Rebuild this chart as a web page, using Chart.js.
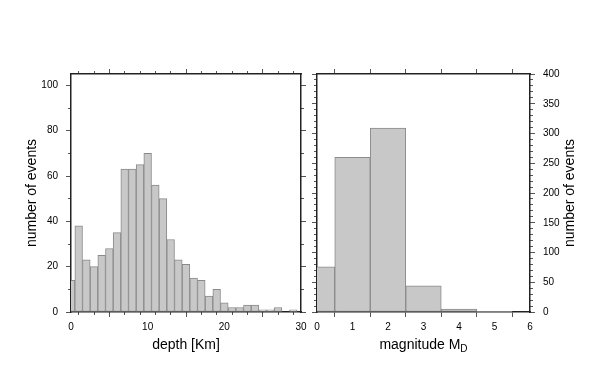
<!DOCTYPE html>
<html><head><meta charset="utf-8">
<script src="https://cdn.jsdelivr.net/npm/chart.js@4"></script>
<style>
html,body{margin:0;padding:0;background:#fff;}
#wrap{position:relative;width:602px;height:383px;background:#fff;}
canvas{position:absolute;left:0;top:0;}
</style></head><body>
<div id="wrap"><canvas id="c1" width="602" height="383"></canvas><canvas id="c2" width="602" height="383"></canvas></div>
<script>
// ---- data ----
const depthBins   = [0,1,2,3,4,5,6,7,8,9,10,11,12,13,14,15,16,17,18,19,20,21,22,23,24,25,26,27,28,29,30];
const depthCounts = [14,38,23,20,25,28,35,63,63,65,70,56,50,32,23,21,15,14,7,10,4,2,2,3,3,1,1,2,0,1,0];
const magBins     = [0,1,2,3,4,5,6];
const magCounts   = [76,260,309,44,5,1,0];

const depthXMajor = [0,10,20,30];
const depthXMinor = [0,2,4,6,8,10,12,14,16,18,20,22,24,26,28,30];
const depthYMajor = [0,20,40,60,80,100];
const depthYMinor = [0,10,20,30,40,50,60,70,80,90,100];
const magXTicks   = [0,1,2,3,4,5,6];
const magYMajor   = [0,50,100,150,200,250,300,350,400];
const magYMinor   = [0,10,20,30,40,50,60,70,80,90,100,110,120,130,140,150,160,170,180,190,200,210,220,230,240,250,260,270,280,290,300,310,320,330,340,350,360,370,380,390,400];

const FONT = '"Liberation Sans", Arial, Helvetica, sans-serif';
const FRAME = '#222';
const TICKC = '#555';
const MAJ = 5, MIN = 3;

function fixSize(size){ return function(s){ if (s.isHorizontal()) s.height = size; else s.width = size; }; }
function setTicks(arr){ return function(s){ s.ticks = arr.map(v => ({value: v})); }; }

function axis(pos, min, max, tickArr, len, size, weight, labels, border){
  const vertical = (pos === 'left' || pos === 'right');
  return {
    type: 'linear', position: pos, min: min, max: max, weight: weight, z: 1, offset: false,
    afterBuildTicks: setTicks(tickArr),
    afterFit: fixSize(size),
    ticks: {display: labels, autoSkip: false, maxRotation: 0, padding: vertical ? 8 : 4, color: '#000', font: {family: FONT, size: 10}},
    grid: {drawOnChartArea: false, drawTicks: true, tickLength: len, tickColor: TICKC, tickWidth: 1},
    border: {display: border, color: FRAME, width: 1.5}
  };
}

const barStyle = {backgroundColor: '#c8c8c8', borderColor: '#8a8a8a', borderWidth: 1, borderSkipped: false,
  barPercentage: 1, categoryPercentage: 1, clip: 0};

// ---- left chart: depth ----
const sx = axis('bottom', 0, 30, depthXMajor, MAJ, 71, 10, true, true);
sx.title = {display: true, text: 'depth [Km]', color: '#000', font: {family: FONT, size: 14}, padding: {top: 0, bottom: 29.6}};
const sy = axis('left', 0, 105, depthYMajor, MAJ, 71, 10, true, true);
sy.title = {display: true, text: 'number of events', color: '#000', font: {family: FONT, size: 14}, padding: {top: 23.6, bottom: 0}};

new Chart(document.getElementById('c1'), {
  type: 'bar',
  data: {datasets: [Object.assign({label: 'depth', data: depthBins.map((x, i) => ({x: x, y: depthCounts[i]}))}, barStyle)]},
  options: {
    responsive: false, animation: false, devicePixelRatio: 1,
    layout: {padding: 0},
    plugins: {legend: {display: false}, tooltip: {enabled: false}},
    scales: {
      x: sx,
      xMin: axis('bottom', 0, 30, depthXMinor, MIN, 0, 0, false, false),
      xTop: axis('top', 0, 30, depthXMajor, MAJ, 74, 10, false, true),
      xTopMin: axis('top', 0, 30, depthXMinor, MIN, 0, 0, false, false),
      y: sy,
      yMin: axis('left', 0, 105, depthYMinor, MIN, 0, 0, false, false),
      yR: axis('right', 0, 105, depthYMajor, MAJ, 301, 10, false, true),
      yRMin: axis('right', 0, 105, depthYMinor, MIN, 0, 0, false, false)
    }
  }
});

// ---- right chart: magnitude ----
const titlePlugin = {
  id: 'extraTitles',
  afterDraw(chart){
    const ctx = chart.ctx, a = chart.chartArea;
    ctx.save();
    ctx.fillStyle = '#000';
    ctx.textBaseline = 'middle';
    // right axis title, reading bottom to top
    ctx.font = '14px ' + FONT;
    ctx.save();
    ctx.translate(a.right + 40, (a.top + a.bottom) / 2);
    ctx.rotate(-Math.PI / 2);
    ctx.textAlign = 'center';
    ctx.fillText('number of events', 0, 0);
    ctx.restore();
    // x title with subscript
    const main = 'magnitude M', sub = 'D';
    ctx.font = '14px ' + FONT;
    const w1 = ctx.measureText(main).width;
    ctx.font = '10px ' + FONT;
    const w2 = ctx.measureText(sub).width;
    const x0 = (a.left + a.right) / 2 - (w1 + w2) / 2;
    const y0 = 345;
    ctx.textAlign = 'left';
    ctx.font = '14px ' + FONT;
    ctx.fillText(main, x0, y0);
    ctx.font = '10px ' + FONT;
    ctx.fillText(sub, x0 + w1, y0 + 4);
    ctx.restore();
  }
};

new Chart(document.getElementById('c2'), {
  type: 'bar',
  data: {datasets: [Object.assign({label: 'magnitude', data: magBins.map((x, i) => ({x: x, y: magCounts[i]}))}, barStyle)]},
  options: {
    responsive: false, animation: false, devicePixelRatio: 1,
    layout: {padding: 0},
    plugins: {legend: {display: false}, tooltip: {enabled: false}},
    scales: {
      x: axis('bottom', 0, 6, magXTicks, MAJ, 71, 10, true, true),
      xTop: axis('top', 0, 6, magXTicks, MAJ, 74, 10, false, true),
      y: axis('right', 0, 400, magYMajor, MAJ, 72, 10, true, true),
      yMin: axis('right', 0, 400, magYMinor, MIN, 0, 0, false, false),
      yL: axis('left', 0, 400, magYMajor, MAJ, 317, 10, false, true),
      yLMin: axis('left', 0, 400, magYMinor, MIN, 0, 0, false, false)
    }
  },
  plugins: [titlePlugin]
});
</script>
</body></html>
